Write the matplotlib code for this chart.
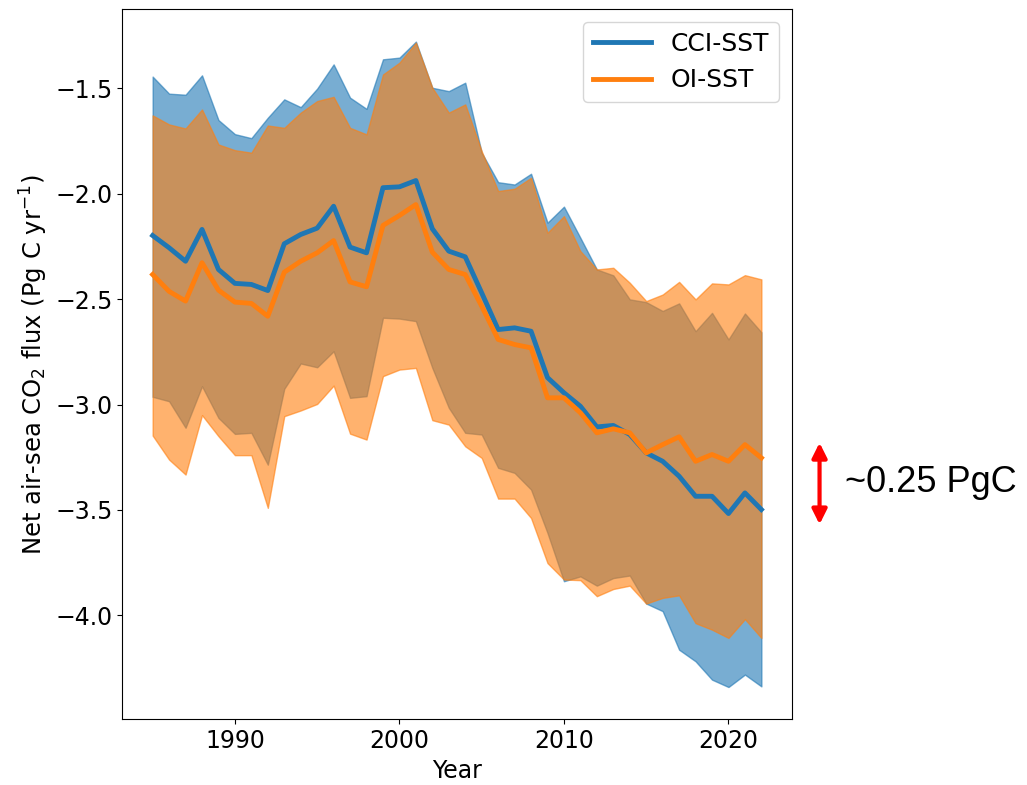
import matplotlib
matplotlib.use("Agg")
import matplotlib.pyplot as plt
from matplotlib.patches import FancyArrowPatch
from matplotlib.ticker import MultipleLocator
import numpy as np

# Years and flux values (Pg C / yr)
years = np.arange(1985, 2023)

cci_mean = [-2.198, -2.256, -2.320, -2.169, -2.359, -2.425, -2.430, -2.459, -2.237, -2.193,
            -2.163, -2.059, -2.253, -2.280, -1.971, -1.967, -1.937, -2.166, -2.272, -2.299,
            -2.470, -2.644, -2.636, -2.652, -2.872, -2.944, -3.008, -3.106, -3.099, -3.142,
            -3.229, -3.269, -3.340, -3.435, -3.435, -3.517, -3.419, -3.498]
cci_upper = [-1.444, -1.525, -1.530, -1.438, -1.650, -1.717, -1.736, -1.639, -1.552, -1.589,
             -1.501, -1.386, -1.544, -1.597, -1.362, -1.354, -1.278, -1.497, -1.513, -1.473,
             -1.805, -1.945, -1.956, -1.905, -2.137, -2.061, -2.209, -2.359, -2.387, -2.501,
             -2.514, -2.556, -2.520, -2.652, -2.565, -2.691, -2.568, -2.657]
cci_lower = [-2.963, -2.984, -3.110, -2.913, -3.063, -3.139, -3.134, -3.285, -2.925, -2.805,
             -2.823, -2.747, -2.968, -2.960, -2.588, -2.592, -2.604, -2.826, -3.015, -3.134,
             -3.142, -3.300, -3.324, -3.403, -3.609, -3.838, -3.815, -3.859, -3.823, -3.811,
             -3.944, -3.980, -4.163, -4.218, -4.305, -4.340, -4.281, -4.337]

oi_mean = [-2.383, -2.463, -2.509, -2.327, -2.457, -2.514, -2.520, -2.581, -2.372, -2.320,
           -2.280, -2.222, -2.418, -2.441, -2.150, -2.103, -2.051, -2.277, -2.359, -2.383,
           -2.533, -2.691, -2.715, -2.731, -2.968, -2.968, -3.039, -3.134, -3.115, -3.134,
           -3.229, -3.190, -3.153, -3.269, -3.237, -3.269, -3.190, -3.253]
oi_upper = [-1.628, -1.671, -1.690, -1.600, -1.766, -1.793, -1.805, -1.676, -1.687, -1.615,
            -1.560, -1.540, -1.687, -1.718, -1.434, -1.378, -1.283, -1.497, -1.615, -1.576,
            -1.798, -1.987, -1.976, -1.924, -2.185, -2.106, -2.272, -2.359, -2.351, -2.422,
            -2.509, -2.478, -2.418, -2.501, -2.425, -2.430, -2.386, -2.406]
oi_lower = [-3.147, -3.261, -3.332, -3.050, -3.150, -3.240, -3.240, -3.490, -3.055, -3.028,
            -2.997, -2.910, -3.138, -3.166, -2.865, -2.834, -2.826, -3.074, -3.095, -3.198,
            -3.253, -3.446, -3.446, -3.538, -3.752, -3.830, -3.833, -3.909, -3.875, -3.859,
            -3.944, -3.917, -3.905, -4.037, -4.068, -4.107, -4.018, -4.107]

blue = '#1f77b4'
orange = '#ff7f0e'

fig = plt.figure(figsize=(10.27, 7.85), dpi=100)
ax = fig.add_axes([0.119, 0.0837, 0.652, 0.9044])

ax.fill_between(years, cci_lower, cci_upper, color=blue, alpha=0.6)
ax.fill_between(years, oi_lower, oi_upper, color=orange, alpha=0.6)
ax.plot(years, cci_mean, color=blue, lw=3.5, label='CCI-SST')
ax.plot(years, oi_mean, color=orange, lw=3.5, label='OI-SST')

ax.xaxis.set_major_locator(MultipleLocator(10))
ax.set_xlabel('Year', fontsize=17)
ax.set_ylabel('Net air-sea CO$_2$ flux (Pg C yr$^{-1}$)', fontsize=17.5)
ax.tick_params(labelsize=17)
ax.legend(loc='upper right', fontsize=18, handlelength=2.3)

# red double arrow + annotation outside the axes
arrow = FancyArrowPatch((0.798, 0.436), (0.798, 0.332), transform=fig.transFigure,
                        arrowstyle='<|-|>', mutation_scale=22, lw=3, color='red',
                        shrinkA=0, shrinkB=0)
fig.add_artist(arrow)
fig.text(0.823, 0.385, '~0.25 PgC', fontsize=26, family='Liberation Sans',
         va='center', ha='left')

fig.savefig('out.png', dpi=100)
